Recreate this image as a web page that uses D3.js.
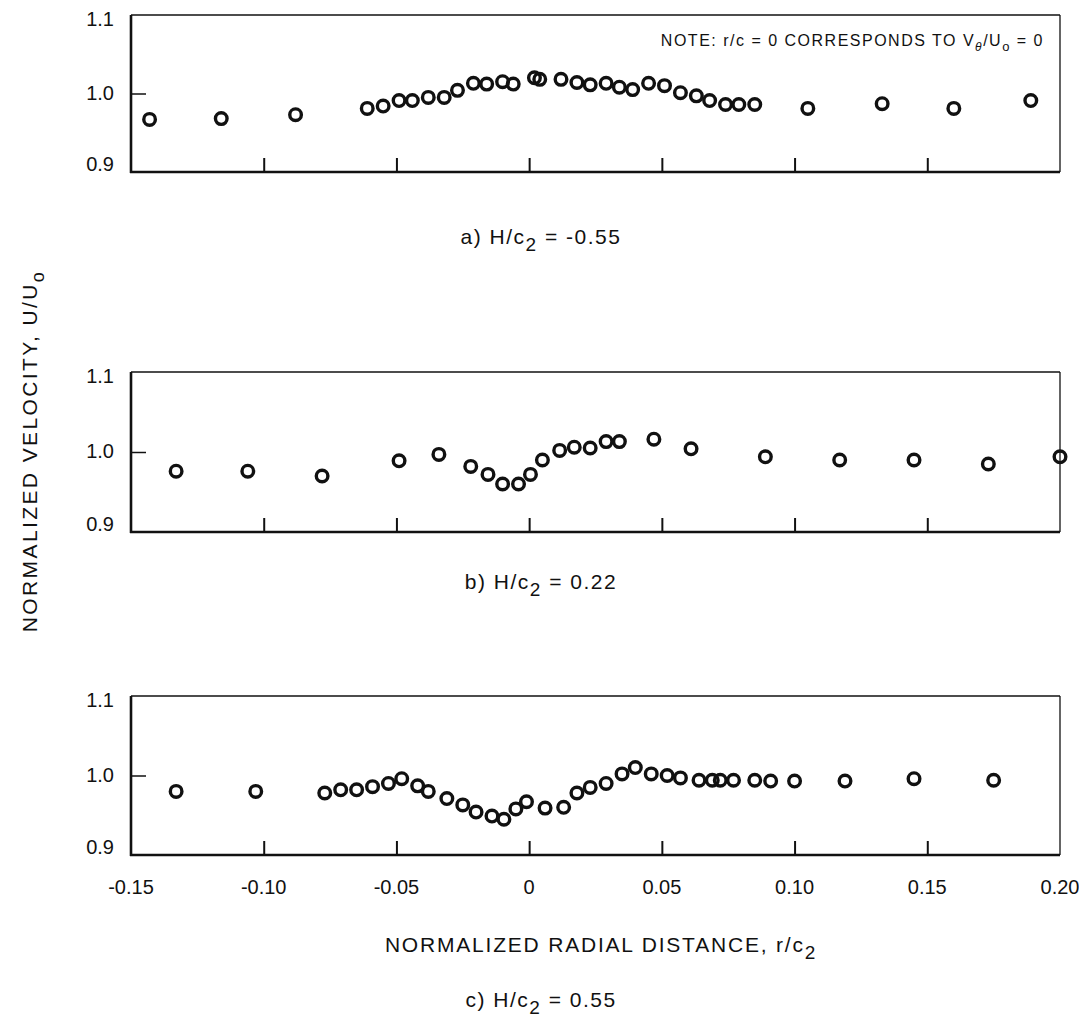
<!DOCTYPE html>
<html>
<head>
<meta charset="utf-8">
<script src="https://cdn.jsdelivr.net/npm/d3@7"></script>
<style>
  body { margin: 0; background: #fff; }
  text { font-family: "Liberation Sans", Arial, Helvetica, sans-serif; fill: #111; }
</style>
</head>
<body>
<svg id="chart" width="1079" height="1021"></svg>
<script>
// Axis ticks shared by the three panels
const xTickValues = [-0.15, -0.10, -0.05, 0, 0.05, 0.10, 0.15, 0.20];
const xTickLabels = ["-0.15", "-0.10", "-0.05", "0", "0.05", "0.10", "0.15", "0.20"];
const yTickValues = [0.9, 1.0, 1.1];
const yTickLabels = ["0.9", "1.0", "1.1"];

// a) H/c2 = -0.55
const rA = [-0.143, -0.116, -0.088, -0.061, -0.055, -0.049, -0.044, -0.038, -0.032,
            -0.027, -0.021, -0.016, -0.010, -0.006, 0.002, 0.004, 0.012, 0.018, 0.023,
            0.029, 0.034, 0.039, 0.045, 0.051, 0.057, 0.063, 0.068, 0.074, 0.079, 0.085,
            0.105, 0.133, 0.160, 0.189];
const uA = [0.967, 0.968, 0.973, 0.981, 0.984, 0.991, 0.991, 0.995, 0.995,
            1.004, 1.013, 1.012, 1.015, 1.012, 1.020, 1.018, 1.018, 1.014, 1.011,
            1.013, 1.008, 1.005, 1.013, 1.010, 1.001, 0.997, 0.991, 0.986, 0.986, 0.986,
            0.981, 0.987, 0.981, 0.991];

// b) H/c2 = 0.22
const rB = [-0.133, -0.106, -0.078, -0.049, -0.034, -0.022, -0.0155, -0.010, -0.004,
            0.0005, 0.005, 0.0115, 0.017, 0.023, 0.029, 0.034, 0.047, 0.061,
            0.089, 0.117, 0.145, 0.173, 0.200];
const uB = [0.976, 0.976, 0.970, 0.989, 0.997, 0.982, 0.972, 0.960, 0.960,
            0.972, 0.990, 1.002, 1.006, 1.005, 1.013, 1.013, 1.016, 1.004,
            0.994, 0.990, 0.990, 0.985, 0.994];

// c) H/c2 = 0.55
const rC = [-0.133, -0.103, -0.077, -0.071, -0.065, -0.059, -0.053, -0.048, -0.042, -0.038,
            -0.031, -0.025, -0.020, -0.014, -0.0095, -0.005, -0.001, 0.006, 0.013, 0.018,
            0.023, 0.029, 0.035, 0.040, 0.046, 0.052, 0.057, 0.064, 0.069, 0.072,
            0.077, 0.085, 0.091, 0.100, 0.119, 0.145, 0.175];
const uC = [0.980, 0.980, 0.978, 0.982, 0.982, 0.986, 0.990, 0.996, 0.987, 0.980,
            0.971, 0.963, 0.954, 0.949, 0.945, 0.958, 0.967, 0.959, 0.960, 0.978,
            0.985, 0.990, 1.002, 1.010, 1.002, 1.000, 0.997, 0.994, 0.994, 0.994,
            0.994, 0.994, 0.993, 0.993, 0.993, 0.996, 0.994];

const svg = d3.select("#chart");
const ink = "#111";
const left = 131, right = 1060;

const x = d3.scaleLinear().domain([-0.15, 0.20]).range([left, right]);

const panels = [
  { r: rA, u: uA, top: 15,  bottom: 172, tag: "a)", value: "-0.55", capY: 244 },
  { r: rB, u: uB, top: 372, bottom: 532, tag: "b)", value: "0.22",  capY: 589 },
  { r: rC, u: uC, top: 696, bottom: 855, tag: "c)", value: "0.55",  capY: 1007 }
];

panels.forEach((p, i) => {
  const y = d3.scaleLinear().domain([0.9, 1.1]).range([p.bottom, p.top]);
  const g = svg.append("g");

  // frame: heavy left/bottom, light top/right
  g.append("line").attr("x1", left).attr("x2", right).attr("y1", y(1.1)).attr("y2", y(1.1))
    .attr("stroke", ink).attr("stroke-width", 1.4);
  g.append("line").attr("x1", right).attr("x2", right).attr("y1", y(1.1)).attr("y2", y(0.9))
    .attr("stroke", ink).attr("stroke-width", 1.3);
  g.append("line").attr("x1", left).attr("x2", left).attr("y1", y(1.1)).attr("y2", y(0.9) + 1)
    .attr("stroke", ink).attr("stroke-width", 2.6);
  g.append("line").attr("x1", left - 1).attr("x2", right).attr("y1", y(0.9)).attr("y2", y(0.9))
    .attr("stroke", ink).attr("stroke-width", 2.6);

  // inward x ticks
  const xAxis = d3.axisTop(x)
    .tickValues(xTickValues.filter(v => v > -0.15 && v < 0.20))
    .tickSize(14).tickFormat("");
  const xa = g.append("g").attr("transform", `translate(0,${y(0.9)})`).call(xAxis);
  xa.select(".domain").remove();
  xa.selectAll(".tick line").attr("stroke", ink).attr("stroke-width", 2);

  // inward y tick at 1.0 and labels
  const yAxis = d3.axisRight(y).tickValues([1.0]).tickSize(15).tickFormat("");
  const ya = g.append("g").attr("transform", `translate(${left},0)`).call(yAxis);
  ya.select(".domain").remove();
  ya.selectAll(".tick line").attr("stroke", ink).attr("stroke-width", 1.5);

  const yLabelShift = { "0.9": -8, "1.0": -1, "1.1": 4 };
  g.selectAll(".ylab").data(yTickValues).join("text")
    .attr("class", "ylab")
    .attr("x", 114)
    .attr("y", (d, k) => y(d) + yLabelShift[yTickLabels[k]])
    .attr("text-anchor", "end")
    .attr("dominant-baseline", "central")
    .attr("font-size", 20)
    .text((d, k) => yTickLabels[k]);

  // data circles
  const pts = p.r.map((r, k) => ({ r, u: p.u[k] }));
  g.selectAll("circle").data(pts).join("circle")
    .attr("cx", d => x(d.r))
    .attr("cy", d => y(d.u))
    .attr("r", 5.8)
    .attr("fill", "none")
    .attr("stroke", ink)
    .attr("stroke-width", 3.4);

  // caption
  const cap = svg.append("text")
    .attr("x", 541).attr("y", p.capY)
    .attr("text-anchor", "middle")
    .attr("font-size", 21)
    .attr("letter-spacing", 1.5);
  cap.append("tspan").text(`${p.tag} H/c`);
  cap.append("tspan").attr("dy", 7).attr("font-size", 19).text("2");
  cap.append("tspan").attr("dy", -7).text(` = ${p.value}`);

  if (i === 2) {
    g.selectAll(".xlab").data(xTickValues).join("text")
      .attr("class", "xlab")
      .attr("x", d => x(d))
      .attr("y", 894)
      .attr("text-anchor", "middle")
      .attr("font-size", 20)
      .text((d, k) => xTickLabels[k]);
  }

  if (i === 0) {
    const note = g.append("text")
      .attr("x", 1044).attr("y", 46)
      .attr("text-anchor", "end")
      .attr("font-size", 16)
      .attr("letter-spacing", 1.5);
    note.append("tspan").text("NOTE: r/c = 0 CORRESPONDS TO V");
    note.append("tspan").attr("dy", 5).attr("font-size", 12).attr("font-style", "italic").text("\u03b8");
    note.append("tspan").attr("dy", -5).text("/U");
    note.append("tspan").attr("dy", 5).attr("font-size", 13).text("o");
    note.append("tspan").attr("dy", -5).text(" = 0");
  }
});

// x-axis title
const xt = svg.append("text")
  .attr("x", 601).attr("y", 952)
  .attr("text-anchor", "middle")
  .attr("font-size", 21)
  .attr("letter-spacing", 1.8);
xt.append("tspan").text("NORMALIZED RADIAL DISTANCE, r/c");
xt.append("tspan").attr("dy", 7).attr("font-size", 19).text("2");

// y-axis title
const yt = svg.append("text")
  .attr("transform", "translate(37,451) rotate(-90)")
  .attr("text-anchor", "middle")
  .attr("font-size", 21)
  .attr("letter-spacing", 2.4);
yt.append("tspan").text("NORMALIZED VELOCITY, U/U");
yt.append("tspan").attr("dy", 7).attr("font-size", 18).text("o");
</script>
</body>
</html>
